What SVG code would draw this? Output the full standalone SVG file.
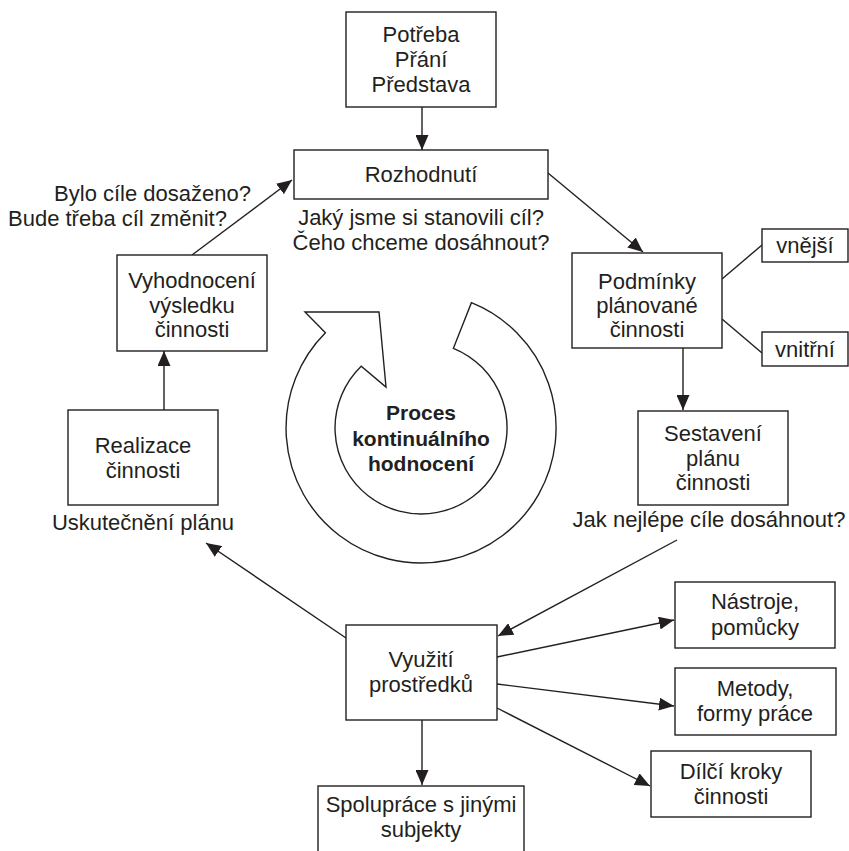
<svg xmlns="http://www.w3.org/2000/svg" width="849" height="851" viewBox="0 0 849 851">
<defs>
<style>
.box{fill:#fff;stroke:#231f20;stroke-width:1.4}
.ln{fill:none;stroke:#231f20;stroke-width:1.4}
.arr{fill:none;stroke:#231f20;stroke-width:1.4;marker-end:url(#ah)}
text{font-family:"Liberation Sans",Arial,Helvetica,sans-serif;font-size:22px;fill:#231f20}
.c{text-anchor:middle}
.b{font-weight:bold;font-size:21px}
</style>
<marker id="ah" markerUnits="userSpaceOnUse" markerWidth="15" markerHeight="13" refX="15" refY="6.5" orient="auto" viewBox="0 0 15 13">
<path d="M0,0 L15,6.5 L0,13 Z" fill="#231f20"/>
</marker>
</defs>
<rect width="849" height="851" fill="#fff"/>

<g id="connectors">
<line class="arr" x1="422" y1="107" x2="422" y2="150"/>
<line class="arr" x1="548" y1="173" x2="643" y2="252"/>
<line class="ln" x1="722" y1="279" x2="762" y2="245"/>
<line class="ln" x1="722" y1="319" x2="762" y2="353"/>
<line class="arr" x1="683" y1="348" x2="683" y2="410"/>
<line class="arr" x1="677" y1="540" x2="498" y2="636"/>
<line class="arr" x1="346" y1="638" x2="206" y2="543"/>
<line class="arr" x1="164" y1="410" x2="164" y2="351"/>
<line class="arr" x1="192" y1="255" x2="292" y2="180"/>
<line class="arr" x1="497" y1="657" x2="674" y2="620"/>
<line class="arr" x1="497" y1="684" x2="674" y2="706"/>
<line class="arr" x1="497" y1="708" x2="650" y2="786"/>
<line class="arr" x1="422" y1="720" x2="422" y2="785"/>
</g>

<g id="cycle">
<path class="box" d="M471.4,302.7 A135,135 0 1 1 325.4,332.7 L305,312 L379,312 L386,387 L361.2,366.2 A86,86 0 1 0 453.4,348.3 Z"/>
<text class="c b" x="421" y="420">Proces</text>
<text class="c b" x="421" y="446">kontinuálního</text>
<text class="c b" x="421" y="471">hodnocení</text>
</g>

<g id="potreba">
<rect class="box" x="346" y="12" width="150" height="95"/>
<text class="c" x="421" y="42">Potřeba</text>
<text class="c" x="421" y="67">Přání</text>
<text class="c" x="421" y="92">Představa</text>
</g>

<g id="rozhodnuti">
<rect class="box" x="294" y="150" width="254" height="49"/>
<text class="c" x="421" y="182">Rozhodnutí</text>
<text class="c" x="421" y="225">Jaký jsme si stanovili cíl?</text>
<text class="c" x="421" y="250">Čeho chceme dosáhnout?</text>
</g>

<g id="podminky">
<rect class="box" x="572" y="253" width="150" height="95"/>
<text class="c" x="647" y="289">Podmínky</text>
<text class="c" x="647" y="313">plánované</text>
<text class="c" x="647" y="337">činnosti</text>
</g>

<g id="vnejsi">
<rect class="box" x="762" y="229" width="86" height="33"/>
<text class="c" x="805" y="253">vnější</text>
</g>

<g id="vnitrni">
<rect class="box" x="762" y="332" width="86" height="34"/>
<text class="c" x="805" y="357">vnitřní</text>
</g>

<g id="sestaveni">
<rect class="box" x="638" y="411" width="150" height="94"/>
<text class="c" x="713" y="441">Sestavení</text>
<text class="c" x="713" y="466">plánu</text>
<text class="c" x="713" y="490">činnosti</text>
<text class="c" x="709" y="527">Jak nejlépe cíle dosáhnout?</text>
</g>

<g id="vyuziti">
<rect class="box" x="346" y="625" width="151" height="95"/>
<text class="c" x="421" y="667">Využití</text>
<text class="c" x="421" y="692">prostředků</text>
</g>

<g id="nastroje">
<rect class="box" x="675" y="582" width="160" height="66"/>
<text class="c" x="755" y="609">Nástroje,</text>
<text class="c" x="755" y="635">pomůcky</text>
</g>

<g id="metody">
<rect class="box" x="675" y="668" width="161" height="67"/>
<text class="c" x="755" y="696">Metody,</text>
<text class="c" x="755" y="721">formy práce</text>
</g>

<g id="dilci">
<rect class="box" x="651" y="751" width="160" height="66"/>
<text class="c" x="731" y="779">Dílčí kroky</text>
<text class="c" x="731" y="804">činnosti</text>
</g>

<g id="spoluprace">
<rect class="box" x="318" y="786" width="206" height="80"/>
<text class="c" x="421" y="812">Spolupráce s jinými</text>
<text class="c" x="421" y="837">subjekty</text>
</g>

<g id="realizace">
<rect class="box" x="68" y="410" width="150" height="95"/>
<text class="c" x="143" y="453">Realizace</text>
<text class="c" x="143" y="478">činnosti</text>
<text class="c" x="143" y="530">Uskutečnění plánu</text>
</g>

<g id="vyhodnoceni">
<rect class="box" x="117" y="255" width="150" height="96"/>
<text class="c" x="192" y="288">Vyhodnocení</text>
<text class="c" x="192" y="313">výsledku</text>
<text class="c" x="192" y="337">činnosti</text>
<text x="251" y="201" text-anchor="end">Bylo cíle dosaženo?</text>
<text x="8" y="226">Bude třeba cíl změnit?</text>
</g>
</svg>
